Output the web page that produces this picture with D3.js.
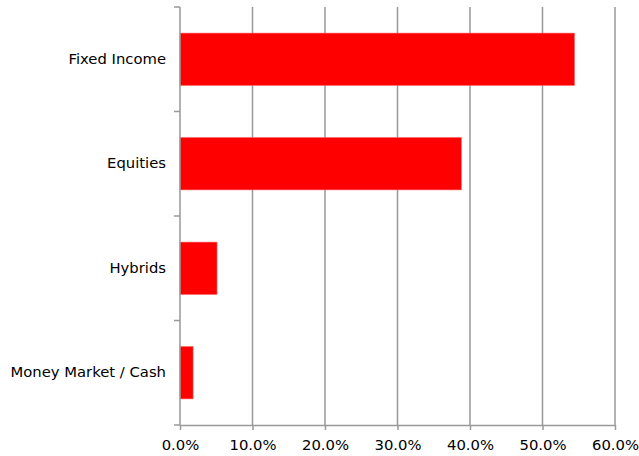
<!DOCTYPE html>
<html>
<head>
<meta charset="utf-8">
<script src="https://cdn.jsdelivr.net/npm/d3@7"></script>
<style>
  body { margin: 0; background: #fff; overflow: hidden; }
  text { font-family: "DejaVu Sans", Verdana, sans-serif; fill: #000; }
</style>
</head>
<body>
<div id="app"></div>
<script>
// данные
const categories = ['Fixed Income', 'Equities', 'Hybrids', 'Money Market / Cash'];
const values = [0.544, 0.388, 0.051, 0.018];
const xTicks = [0, 0.1, 0.2, 0.3, 0.4, 0.5, 0.6];

const width = 639, height = 456;
const margin = { left: 180, right: 24, top: 7, bottom: 31 };
const innerWidth = width - margin.left - margin.right;
const innerHeight = height - margin.top - margin.bottom;
const fontSize = '14.8px';

const svg = d3.select('#app').append('svg')
  .attr('width', width)
  .attr('height', height)
  .style('display', 'block');

const g = svg.append('g')
  .attr('transform', `translate(${margin.left}, ${margin.top})`);

const xScale = d3.scaleLinear().domain([0, 0.6]).range([0, innerWidth]);
const yScale = d3.scaleBand().domain(categories).range([0, innerHeight])
  .paddingInner(0.5).paddingOuter(0.25);

// вертикальная сетка
g.selectAll('.grid')
  .data(xTicks.slice(1))
  .enter().append('line')
  .attr('class', 'grid')
  .attr('x1', d => xScale(d)).attr('x2', d => xScale(d))
  .attr('y1', 0).attr('y2', innerHeight)
  .attr('stroke', '#999').attr('stroke-width', 1.5);

// ось X
const xAxis = d3.axisBottom(xScale).tickValues(xTicks).tickFormat(d3.format('.1%')).tickSize(5).tickSizeOuter(0);
const xg = g.append('g').attr('transform', `translate(0, ${innerHeight})`).call(xAxis);
xg.select('.domain').attr('stroke', '#999').attr('stroke-width', 1.5);
xg.selectAll('.tick line').attr('stroke', '#999').attr('stroke-width', 1.5);
xg.selectAll('.tick text')
  .attr('font-size', fontSize).attr('y', 8).attr('dy', '17px')
  .attr('font-family', '"DejaVu Sans", Verdana, sans-serif').attr('fill', '#000');

// столбцы
g.selectAll('.bar')
  .data(categories)
  .enter().append('rect')
  .attr('class', 'bar')
  .attr('x', 0)
  .attr('y', d => yScale(d))
  .attr('height', yScale.bandwidth())
  .attr('width', (d, i) => xScale(values[i]))
  .attr('fill', '#ff0000')
  .attr('stroke', '#ff5555').attr('stroke-width', 0.6);

// ось Y
const step = yScale.step();
const boundaries = d3.range(categories.length + 1).map(i => i * step);
g.append('line')
  .attr('x1', 0).attr('x2', 0).attr('y1', 0).attr('y2', innerHeight)
  .attr('stroke', '#999').attr('stroke-width', 1.5);
g.selectAll('.ytick')
  .data(boundaries)
  .enter().append('line')
  .attr('x1', -6).attr('x2', 0)
  .attr('y1', d => d).attr('y2', d => d)
  .attr('stroke', '#999').attr('stroke-width', 1.5);

g.selectAll('.label')
  .data(categories)
  .enter().append('text')
  .attr('class', 'label')
  .attr('x', -14)
  .attr('y', d => yScale(d) + yScale.bandwidth() / 2)
  .attr('dy', '.32em')
  .attr('text-anchor', 'end')
  .attr('font-size', fontSize)
  .text(d => d);
</script>
</body>
</html>
